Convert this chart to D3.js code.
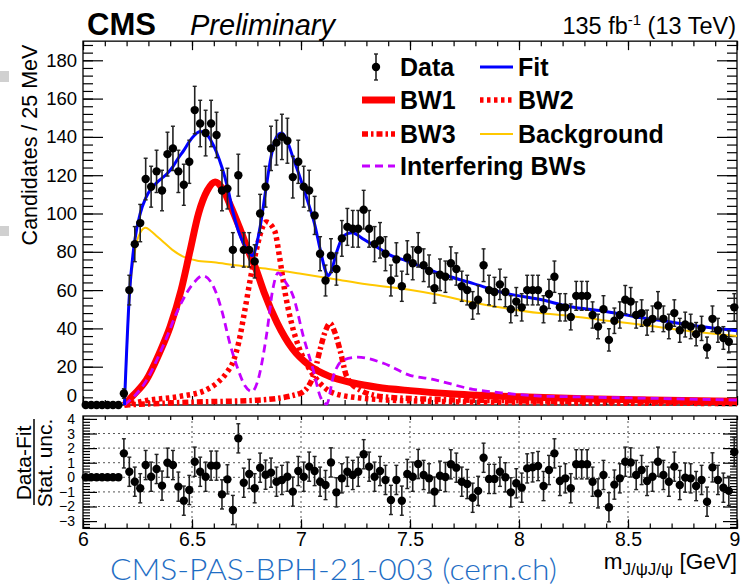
<!DOCTYPE html>
<html><head><meta charset="utf-8">
<script src="https://cdn.jsdelivr.net/npm/d3@7"></script>
<style>body{margin:0;background:#fff}svg{display:block}</style>
</head><body>
<svg id="c" width="741" height="586"></svg>
<script>
// ---------------- DATA ----------------
const binLow = 6.0, binWidth = 0.025, nBins = 120;
const counts = [0,0,0,0,0,0,0,
 6,60,84,95,118,114,122,112,131,134,122,115,127,154,147,142,147,141,112,113,81,120,81,81,
 75,100,114,134,137,140,138,119,127,114,112,99,79,65,78,71,87,93,92,92,102,92,84,86,79,65,
 76,62,77,74,81,73,70,61,68,67,74,71,62,60,52,55,73,60,59,63,59,50,54,51,60,60,60,50,58,67,
 51,51,46,57,57,57,47,41,50,34,44,47,55,54,47,48,43,45,52,45,41,48,39,42,41,37,40,30,45,39,
 35,33,51];
const pulls = [0,0,0,0,0,0,0,
 1.64,0.38,-0.30,-0.75,0.84,0.04,0.57,-0.57,1.00,0.84,-0.64,-1.60,-0.87,1.07,0.38,0.04,0.80,0.80,
 -1.17,-0.14,-2.24,2.67,-0.37,0.23,-0.75,0.66,0.18,0.32,-0.30,-0.18,0.04,-0.98,0.43,0.04,0.73,
 0.43,-0.30,-0.53,1.02,-1.03,-0.07,0.38,0.16,0.38,1.58,0.73,0.04,0.43,-0.18,-1.55,-0.18,-1.60,
 0.23,0.04,0.91,0.16,-0.07,-0.98,0.11,0.02,0.89,0.66,-0.30,-0.46,-1.40,-0.93,1.34,-0.11,-0.11,
 0.38,0.00,-1.03,-0.41,-0.71,0.61,0.68,0.77,-0.60,0.50,1.64,-0.25,-0.07,-0.75,0.89,0.89,0.89,
 -0.30,-1.10,0.16,-2.05,-0.50,-0.07,1.07,1.02,0.16,0.50,-0.25,0.04,1.07,0.16,-0.30,0.73,-0.53,
 -0.02,-0.07,-0.60,-0.18,-1.67,0.68,-0.18,-0.71,-0.93,1.73];

const fitMass = [6.19,6.2125,6.2375,6.2625,6.2875,6.3125,6.3375,6.3625,6.3875,6.4125,6.4375,6.4625,6.4875,6.5125,6.5375,6.5625,6.5875,6.6125,6.6375,6.6625,6.6875,6.7125,6.7375,6.7625,6.7775,6.7875,6.8125,6.8375,6.8625,6.8875,6.9125,6.9375,6.9625,6.9875,7.0125,7.0375,7.0625,7.0875,7.1125,7.125,7.1375,7.1625,7.1875,7.2125,7.2375,7.2625,7.2875,7.345,7.407,7.483,7.634,7.788,7.94,8.093,8.235,8.382,8.535,8.688,8.841,9.0];
const fitVals = [0,57,86,100,108,113,116,118.5,121,124.5,129,133,137.5,141,142.8,142,138,132,124,114,101,91,84,79,78,80,93,111.6,129.5,140,142,137.5,129.5,121.5,113,104,94.5,81.5,70,67.5,69.5,79.5,87,89.5,90,88.5,86.5,82.7,78.4,75.3,68.8,63.5,58.3,55.2,51.3,49.1,46.1,43.5,40.9,38.8];

const bkgMass = [6.19,6.2125,6.2375,6.2625,6.2875,6.31,6.34,6.37,6.41,6.46,6.52,6.6,6.7,6.85,7.0,7.15,7.3,7.49,7.634,7.788,7.94,8.093,8.235,8.382,8.535,8.688,8.841,9.0];
const bkgVals = [0,55,80,90,92.5,91,88,85,81,77.5,75.5,74.5,73,71,68.5,65.8,63,60.3,57.4,53.5,50.5,48,46.5,44.3,42.3,40,37.8,36];

const bw1Mass = [6.19,6.23,6.29,6.35,6.40,6.45,6.49,6.53,6.57,6.606,6.64,6.675,6.72,6.76,6.79,6.83,6.89,6.96,7.04,7.13,7.24,7.35,7.5,7.7,8.0,8.3,8.6,9.0];
const bw1Vals = [0,5,13,27,41,60,80,100,112,116.5,113,104.5,92,80,72,59,43,29.5,20.5,15,11.5,9.3,7.5,5.8,4.3,3.3,2.6,2.0];

const bw2Mass = [6.19,6.3,6.445,6.567,6.62,6.66,6.69,6.715,6.74,6.78,6.841,6.879,6.902,6.925,6.956,6.994,7.04,7.086,7.147,7.269,7.49,8.0,9.0];
const bw2Vals = [0,2.5,4.5,8,12,17,23,33,48,73,95.5,91,77,60,43,29,18.5,11.5,6.3,3.7,2.2,1.3,0.8];

const bw3Mass = [6.19,6.5,6.8,6.995,7.056,7.087,7.11,7.133,7.155,7.179,7.21,7.271,7.378,7.6,8.0,9.0];
const bw3Vals = [0,1.5,2.5,6,14.8,28.7,38,42.6,38,28.7,14.8,7.8,4.3,3,2.2,1.4];

const intMass = [6.19,6.292,6.368,6.445,6.506,6.55,6.598,6.636,6.674,6.713,6.743,6.775,6.80,6.843,6.87,6.895,6.93,6.965,7.011,7.056,7.09,7.118,7.148,7.194,7.26,7.378,7.5,7.6,7.788,7.94,8.093,8.24,8.6,9.0];
const intVals = [0,13,31,52,63.5,67.5,62,49.6,32,18,10,7,12,37.4,60,69,64,56.5,35.7,18.3,4,0.5,14.8,23.5,25,21.8,15.5,13.5,8.2,6.1,4.7,4.3,3.5,2.6];

const yTicksMain = [0,20,40,60,80,100,120,140,160,180];
const yTicksPull = [-3,-2,-1,0,1,2,3,4];
const pullGrid = [-2,-1,0,1,2,3];
const xTicks = [6,6.5,7,7.5,8,8.5,9];

// ---------------- DRAW ----------------
const svg = d3.select('#c');
const FONT = "'Liberation Sans', Arial, Helvetica, sans-serif";
const x = d3.scaleLinear().domain([6,9]).range([83,737]);
const y = d3.scaleLinear().domain([0,190]).range([405,41.15]);
const yr = d3.scaleLinear().domain([-3.5,4.2]).range([528.4,416]);

const bins = d3.range(nBins).map(i => ({m: binLow + (i+0.5)*binWidth, n: counts[i], p: pulls[i]}));

// screenshot artefacts at left edge
svg.append('rect').attr('x',0).attr('y',71).attr('width',9).attr('height',11).attr('fill','#d0d0d0');
svg.append('rect').attr('x',0).attr('y',226).attr('width',9).attr('height',10).attr('fill','#d0d0d0');

function axisStyle(g){ g.select('.domain').remove(); g.selectAll('line').attr('stroke','#000').attr('stroke-width',1.2);
  g.attr('font-family',FONT).selectAll('text').attr('fill','#000'); }

// main frame axes
const minorY = d3.range(0,190,4);
const minorX = d3.range(6,9.0001,0.1);
svg.append('g').attr('transform','translate(83,0)').call(d3.axisLeft(y).tickValues(minorY).tickFormat('').tickSizeInner(-10).tickSizeOuter(0)).call(axisStyle);
const yLab = svg.append('g').attr('transform','translate(83,0)').call(d3.axisLeft(y).tickValues(yTicksMain).tickSizeInner(-20).tickSizeOuter(0).tickPadding(6)).call(axisStyle)
  .attr('font-size',18.5);
yLab.selectAll('text').filter(d=>d===0).attr('dy','-0.2em');
svg.append('g').attr('transform','translate(737,0)').call(d3.axisRight(y).tickValues(minorY).tickFormat('').tickSizeInner(-10).tickSizeOuter(0)).call(axisStyle);
svg.append('g').attr('transform','translate(737,0)').call(d3.axisRight(y).tickValues(yTicksMain).tickFormat('').tickSizeInner(-20).tickSizeOuter(0)).call(axisStyle);
[[41.15,'top'],[405,'bottom']].forEach(([yy,side])=>{
  const ax = side==='top'?d3.axisTop:d3.axisBottom;
  svg.append('g').attr('transform',`translate(0,${yy})`).call(ax(x).tickValues(minorX).tickFormat('').tickSizeInner(-5).tickSizeOuter(0)).call(axisStyle);
  svg.append('g').attr('transform',`translate(0,${yy})`).call(ax(x).tickValues(xTicks).tickFormat('').tickSizeInner(-9).tickSizeOuter(0)).call(axisStyle);
});
svg.append('rect').attr('x',83).attr('y',41.15).attr('width',654).attr('height',405-41.15).attr('fill','none').attr('stroke','#000').attr('stroke-width',1.3);

// pull pad grid
const gridG = svg.append('g').attr('stroke','#555').attr('stroke-width',1).attr('stroke-dasharray','2,3');
xTicks.slice(1,-1).forEach(v=>gridG.append('line').attr('x1',x(v)).attr('x2',x(v)).attr('y1',416).attr('y2',528.4));
pullGrid.forEach(v=>gridG.append('line').attr('x1',83).attr('x2',737).attr('y1',yr(v)).attr('y2',yr(v)));

const minorP = d3.range(-3.4,4.2,0.2);
svg.append('g').attr('transform','translate(83,0)').call(d3.axisLeft(yr).tickValues(minorP).tickFormat('').tickSizeInner(-7).tickSizeOuter(0)).call(axisStyle);
svg.append('g').attr('transform','translate(83,0)').call(d3.axisLeft(yr).tickValues(yTicksPull).tickSizeInner(-14).tickSizeOuter(0).tickPadding(8)).call(axisStyle)
  .attr('font-size',14);
svg.append('g').attr('transform','translate(737,0)').call(d3.axisRight(yr).tickValues(minorP).tickFormat('').tickSizeInner(-7).tickSizeOuter(0)).call(axisStyle);
svg.append('g').attr('transform','translate(737,0)').call(d3.axisRight(yr).tickValues(yTicksPull).tickFormat('').tickSizeInner(-14).tickSizeOuter(0)).call(axisStyle);
svg.append('g').attr('transform','translate(0,528.4)').call(d3.axisBottom(x).tickValues(minorX).tickFormat('').tickSizeInner(-5).tickSizeOuter(0)).call(axisStyle);
const xLab = svg.append('g').attr('transform','translate(0,528.4)').call(d3.axisBottom(x).tickValues(xTicks).tickFormat(d3.format('~g')).tickSizeInner(-9).tickSizeOuter(0).tickPadding(4)).call(axisStyle)
  .attr('font-size',19.5);
xLab.selectAll('text').filter(d=>d===9).attr('dx',-2.5);
svg.append('g').attr('transform','translate(0,416)').call(d3.axisTop(x).tickValues(minorX).tickFormat('').tickSizeInner(-4).tickSizeOuter(0)).call(axisStyle);
svg.append('rect').attr('x',83).attr('y',416).attr('width',654).attr('height',112.4).attr('fill','none').attr('stroke','#000').attr('stroke-width',1.3);

// curves
function curve(mass, vals, color, width, dash){
  const line = d3.line().x((d,i)=>x(mass[i])).y(d=>y(d)).curve(d3.curveMonotoneX);
  svg.append('path').datum(vals).attr('d',line).attr('fill','none').attr('stroke',color)
    .attr('stroke-width',width).attr('stroke-dasharray',dash||null).attr('stroke-linejoin','round');
}
const RED='#ff0000', BLUE='#0000ff', GOLD='#ffc800', PURP='#c400ff';
curve(bkgMass,bkgVals,GOLD,2);
curve(bw1Mass,bw1Vals,RED,7);
curve(bw2Mass,bw2Vals,RED,5.5,'3.5,3.5');
curve(bw3Mass,bw3Vals,RED,5.5,'6,3,2.5,3');
curve(intMass,intVals,PURP,2.8,'8,5');
curve(fitMass,fitVals,BLUE,3);

// data points
const dg = svg.append('g');
bins.forEach(b=>{
  if(b.n>0){
    const e=Math.sqrt(b.n);
    dg.append('line').attr('x1',x(b.m)).attr('x2',x(b.m)).attr('y1',y(b.n-e)).attr('y2',y(b.n+e)).attr('stroke','#222').attr('stroke-width',1.6);
    [b.n-e,b.n+e].forEach(v=>dg.append('line').attr('x1',x(b.m)-2).attr('x2',x(b.m)+2).attr('y1',y(v)).attr('y2',y(v)).attr('stroke','#222').attr('stroke-width',1.4));
  }
  dg.append('circle').attr('cx',x(b.m)).attr('cy',y(b.n)).attr('r',4.2).attr('fill','#000');
});
// pulls
const pg = svg.append('g');
bins.forEach(b=>{
  if(b.n>0){
    pg.append('line').attr('x1',x(b.m)).attr('x2',x(b.m)).attr('y1',yr(b.p-1)).attr('y2',yr(b.p+1)).attr('stroke','#222').attr('stroke-width',1.6);
    [b.p-1,b.p+1].forEach(v=>pg.append('line').attr('x1',x(b.m)-2).attr('x2',x(b.m)+2).attr('y1',yr(v)).attr('y2',yr(v)).attr('stroke','#222').attr('stroke-width',1.4));
  }
  pg.append('circle').attr('cx',x(b.m)).attr('cy',yr(b.p)).attr('r',4.2).attr('fill','#000');
});

// legend
const L = svg.append('g').attr('font-family',FONT).attr('font-weight','bold').attr('font-size',25);
const rows=[67,100,134,166];
L.append('line').attr('x1',376).attr('x2',376).attr('y1',rows[0]-13).attr('y2',rows[0]+13).attr('stroke','#222').attr('stroke-width',1.6);
[rows[0]-13,rows[0]+13].forEach(v=>L.append('line').attr('x1',374).attr('x2',378).attr('y1',v).attr('y2',v).attr('stroke','#222').attr('stroke-width',1.4));
L.append('circle').attr('cx',376).attr('cy',rows[0]).attr('r',4.2).attr('fill','#000');
function legLine(x1,yy,color,w,dash){L.append('line').attr('x1',x1).attr('x2',x1+33).attr('y1',yy).attr('y2',yy).attr('stroke',color).attr('stroke-width',w).attr('stroke-dasharray',dash||null);}
legLine(480,rows[0],BLUE,3);
legLine(362,rows[1],RED,7);
legLine(480,rows[1],RED,5.5,'3.5,3.5');
legLine(362,rows[2],RED,5.5,'6,3,2.5,3');
legLine(480,rows[2],GOLD,2);
legLine(362,rows[3],PURP,2.8,'8,5');
[['Data',400,0],['Fit',518,0],['BW1',400,1],['BW2',518,1],['BW3',400,2],['Background',518,2],['Interfering BWs',400,3]]
 .forEach(([t,xx,r])=>L.append('text').attr('x',xx).attr('y',rows[r]+9).text(t));

// header texts
svg.append('text').attr('x',87).attr('y',35).attr('font-family',FONT).attr('font-weight','bold').attr('font-size',31).text('CMS');
svg.append('text').attr('x',190).attr('y',35).attr('font-family',FONT).attr('font-style','italic').attr('font-size',29).text('Preliminary');
const lumi = svg.append('text').attr('x',736).attr('y',34).attr('text-anchor','end').attr('font-family',FONT).attr('font-size',23.5);
lumi.append('tspan').text('135 fb');
lumi.append('tspan').attr('font-size',15).attr('dy',-9).text('-1');
lumi.append('tspan').attr('dy',9).text(' (13 TeV)');

// axis titles
svg.append('text').attr('transform','translate(37,145) rotate(-90)').attr('text-anchor','middle').attr('font-family',FONT).attr('font-size',21.5).text('Candidates / 25 MeV');
svg.append('text').attr('transform','translate(31,463) rotate(-90)').attr('text-anchor','middle').attr('font-family',FONT).attr('font-size',21).text('Data-Fit');
svg.append('line').attr('x1',34).attr('x2',34).attr('y1',419).attr('y2',505).attr('stroke','#000').attr('stroke-width',1.5);
svg.append('text').attr('transform','translate(52,463) rotate(-90)').attr('text-anchor','middle').attr('font-family',FONT).attr('font-size',21).text('Stat. unc.');

const xt = svg.append('text').attr('x',737).attr('y',569).attr('text-anchor','end').attr('font-family',FONT).attr('font-size',22.5);
xt.append('tspan').text('m');
xt.append('tspan').attr('font-size',17).attr('dy',6).text('J/ψJ/ψ');
xt.append('tspan').attr('dy',-6).text(' [GeV]');

svg.append('text').attr('x',110).attr('y',580).attr('font-family',"Lato, 'Open Sans', sans-serif").attr('font-weight',300)
  .attr('font-size',29.5).attr('fill','#1f6ec4').attr('textLength',447).attr('lengthAdjust','spacingAndGlyphs').text('CMS-PAS-BPH-21-003 (cern.ch)');
</script>
</body></html>
